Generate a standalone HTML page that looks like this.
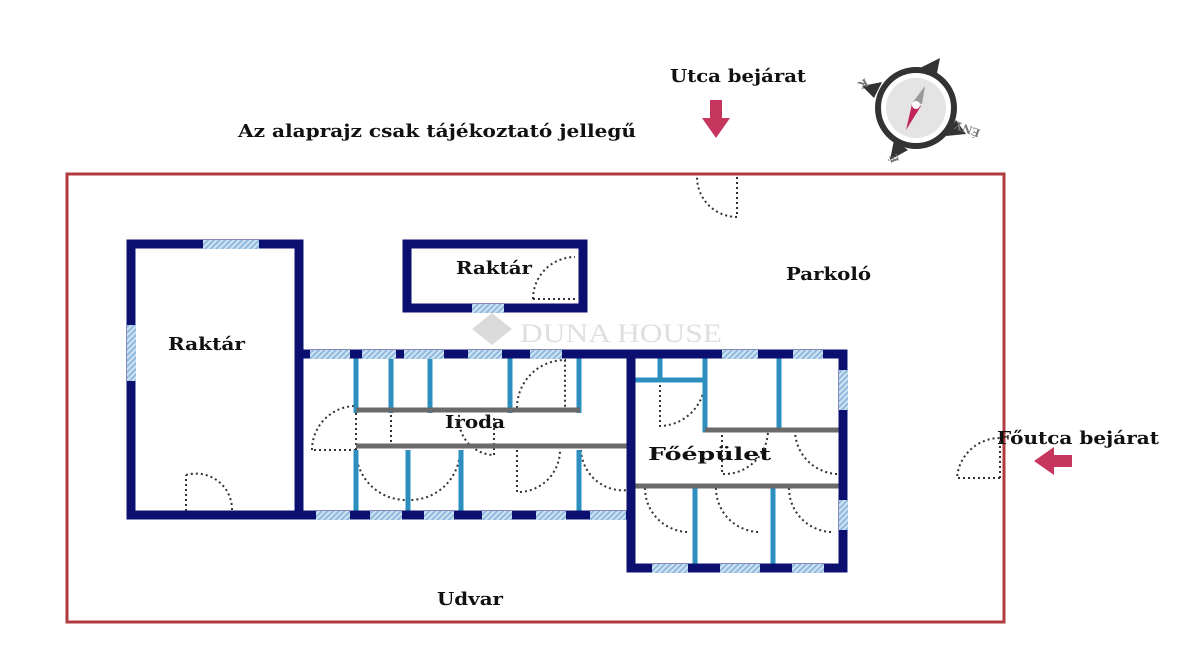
<!DOCTYPE html>
<html><head><meta charset="utf-8"><style>
html,body{margin:0;padding:0;background:#fff;}
svg{display:block}
text{font-family:"DejaVu Serif","Liberation Serif",serif;font-weight:bold;fill:#111;}
</style></head><body>
<svg width="1200" height="667" viewBox="0 0 1200 667" xmlns="http://www.w3.org/2000/svg">
<defs>
<pattern id="h" width="4" height="4" patternUnits="userSpaceOnUse" patternTransform="rotate(45)">
<rect width="4" height="4" fill="#cfe3f3"/><rect width="2" height="4" fill="#8fb9dd"/></pattern>
</defs>
<rect x="67" y="174" width="937" height="448" fill="none" stroke="#b23b3f" stroke-width="3"/>

<text x="238" y="137" font-size="18" textLength="398" lengthAdjust="spacingAndGlyphs">Az alaprajz csak tájékoztató jellegű</text>
<text x="670" y="82" font-size="18" textLength="136" lengthAdjust="spacingAndGlyphs">Utca bejárat</text>
<text x="786" y="280" font-size="18" textLength="85" lengthAdjust="spacingAndGlyphs">Parkoló</text>
<text x="997" y="444" font-size="18" textLength="162" lengthAdjust="spacingAndGlyphs">Főutca bejárat</text>
<text x="437" y="605" font-size="18" textLength="66" lengthAdjust="spacingAndGlyphs">Udvar</text>
<text x="168" y="350" font-size="18" textLength="77" lengthAdjust="spacingAndGlyphs">Raktár</text>
<text x="456" y="274" font-size="18" textLength="76" lengthAdjust="spacingAndGlyphs">Raktár</text>
<text x="445" y="428" font-size="18" textLength="60" lengthAdjust="spacingAndGlyphs">Iroda</text>
<text x="648" y="460" font-size="18" textLength="123" lengthAdjust="spacingAndGlyphs">Főépület</text>

<!-- arrows -->
<path d="M710 100 h12 v18 h8 l-14 20 l-14 -20 h8z" fill="#c7375d"/>
<path d="M1072 455 v12 h-18 v8 l-20 -14 l20 -14 v8z" fill="#c7375d"/>

<!-- watermark -->
<g opacity="0.3"><path d="M492 313 l20 16 l-20 16 l-20 -16z" fill="#888"/>
<text x="520" y="342" font-size="26" textLength="202" lengthAdjust="spacingAndGlyphs" style="fill:#999;font-weight:normal;font-family:'Liberation Serif',serif">DUNA HOUSE</text></g>

<!-- compass -->
<g>
<path d="M940 58 l-4 20 l-16 -10z M862 86 l20 -4 l-8 16z M890 160 l4 -20 l14 10z M966 134 l-20 2 l10 -16z" fill="#333"/>
<circle cx="916" cy="108" r="38" fill="#fff" stroke="#333" stroke-width="6"/>
<circle cx="916" cy="108" r="30" fill="#e4e4e4"/>
<path d="M925 86 l-3 18 l-9 -2z" fill="#999"/>
<path d="M912 104 l9 2 l-15 24z" fill="#c0245a"/>
<circle cx="916" cy="105" r="4" fill="#fff"/>
<text x="970" y="136" font-size="11" style="fill:#777" transform="rotate(200 975 132)">ÉNY</text>
<text x="858" y="80" font-size="11" style="fill:#777" transform="rotate(150 862 80)">K</text>
<text x="892" y="160" font-size="11" style="fill:#777" transform="rotate(-110 896 158)">É</text>
</g>

<!-- doors (dotted) -->
<g fill="none" stroke="#333" stroke-width="2" stroke-dasharray="2 3">
<path d="M737 177 v40 M737 217 A40 40 0 0 1 697 177"/>
<path d="M533 299 h42 M533 299 A42 42 0 0 1 575 257"/>
<path d="M186 511 v-36 M186 475 A36 36 0 0 1 232 511"/>
<path d="M1000 478 v-40 M1000 478 h-43 A43 43 0 0 1 1000 438"/>
<path d="M356 450 h-44 M312 450 A44 44 0 0 1 356 406"/>
<path d="M356 450 A50 50 0 0 0 406 500 M356 450 v-40"/>
<path d="M460 450 A50 50 0 0 1 410 500 M391 410 v40"/>
<path d="M494 455 v-40 M460 410 A36 36 0 0 0 494 455"/>
<path d="M517 408 A48 48 0 0 1 565 360 v48"/>
<path d="M517 450 v42 A42 42 0 0 0 560 450"/>
<path d="M581 450 A42 42 0 0 0 628 490"/>
<path d="M660 380 v46 A46 46 0 0 0 705 380"/>
<path d="M722 430 v44 A44 44 0 0 0 768 430"/>
<path d="M795 430 A44 44 0 0 0 840 474"/>
<path d="M645 488 A44 44 0 0 0 690 532"/>
<path d="M716 488 A44 44 0 0 0 760 532"/>
<path d="M789 488 A44 44 0 0 0 833 532"/>
</g>

<!-- interior light blue walls -->
<g stroke="#2d8fc0" stroke-width="5" fill="none">
<path d="M356 355 v58 M391 355 v58 M430 355 v58 M510 355 v58 M579 355 v58"/>
<path d="M356 450 v66 M408 450 v66 M461 450 v66 M579 450 v66"/>
<path d="M660 355 v25 M631 380 h74 M705 355 v75 h138 M779 355 v75"/>
<path d="M695 488 v80 M773 488 v80"/>
</g>
<g stroke="#6a6a6a" stroke-width="5" fill="none">
<path d="M356 410 h224 M356 446 h275 M631 486 h212 M705 430 h138"/>
</g>

<!-- outer walls -->
<g stroke="#0b1070" stroke-width="9" fill="none" stroke-linecap="square">
<rect x="131" y="244" width="168" height="271"/>
<rect x="407" y="244" width="176" height="64"/>
<path d="M299 354 H843 V568 H631 V515 H299"/>
<path d="M631 354 V568"/>
</g>
<!-- windows -->
<g fill="url(#h)">
<rect x="203" y="240" width="56" height="9"/>
<rect x="127" y="325" width="9" height="56"/>
<rect x="472" y="304" width="32" height="9"/>
<rect x="310" y="350" width="40" height="9"/>
<rect x="362" y="350" width="34" height="9"/>
<rect x="404" y="350" width="40" height="9"/>
<rect x="468" y="350" width="34" height="9"/>
<rect x="530" y="350" width="32" height="9"/>
<rect x="722" y="350" width="36" height="9"/>
<rect x="793" y="350" width="30" height="9"/>
<rect x="839" y="370" width="9" height="40"/>
<rect x="839" y="500" width="9" height="30"/>
<rect x="316" y="511" width="34" height="9"/>
<rect x="370" y="511" width="32" height="9"/>
<rect x="424" y="511" width="30" height="9"/>
<rect x="482" y="511" width="30" height="9"/>
<rect x="536" y="511" width="30" height="9"/>
<rect x="590" y="511" width="36" height="9"/>
<rect x="652" y="564" width="36" height="9"/>
<rect x="720" y="564" width="40" height="9"/>
<rect x="792" y="564" width="32" height="9"/>
</g>
</svg>
</body></html>
